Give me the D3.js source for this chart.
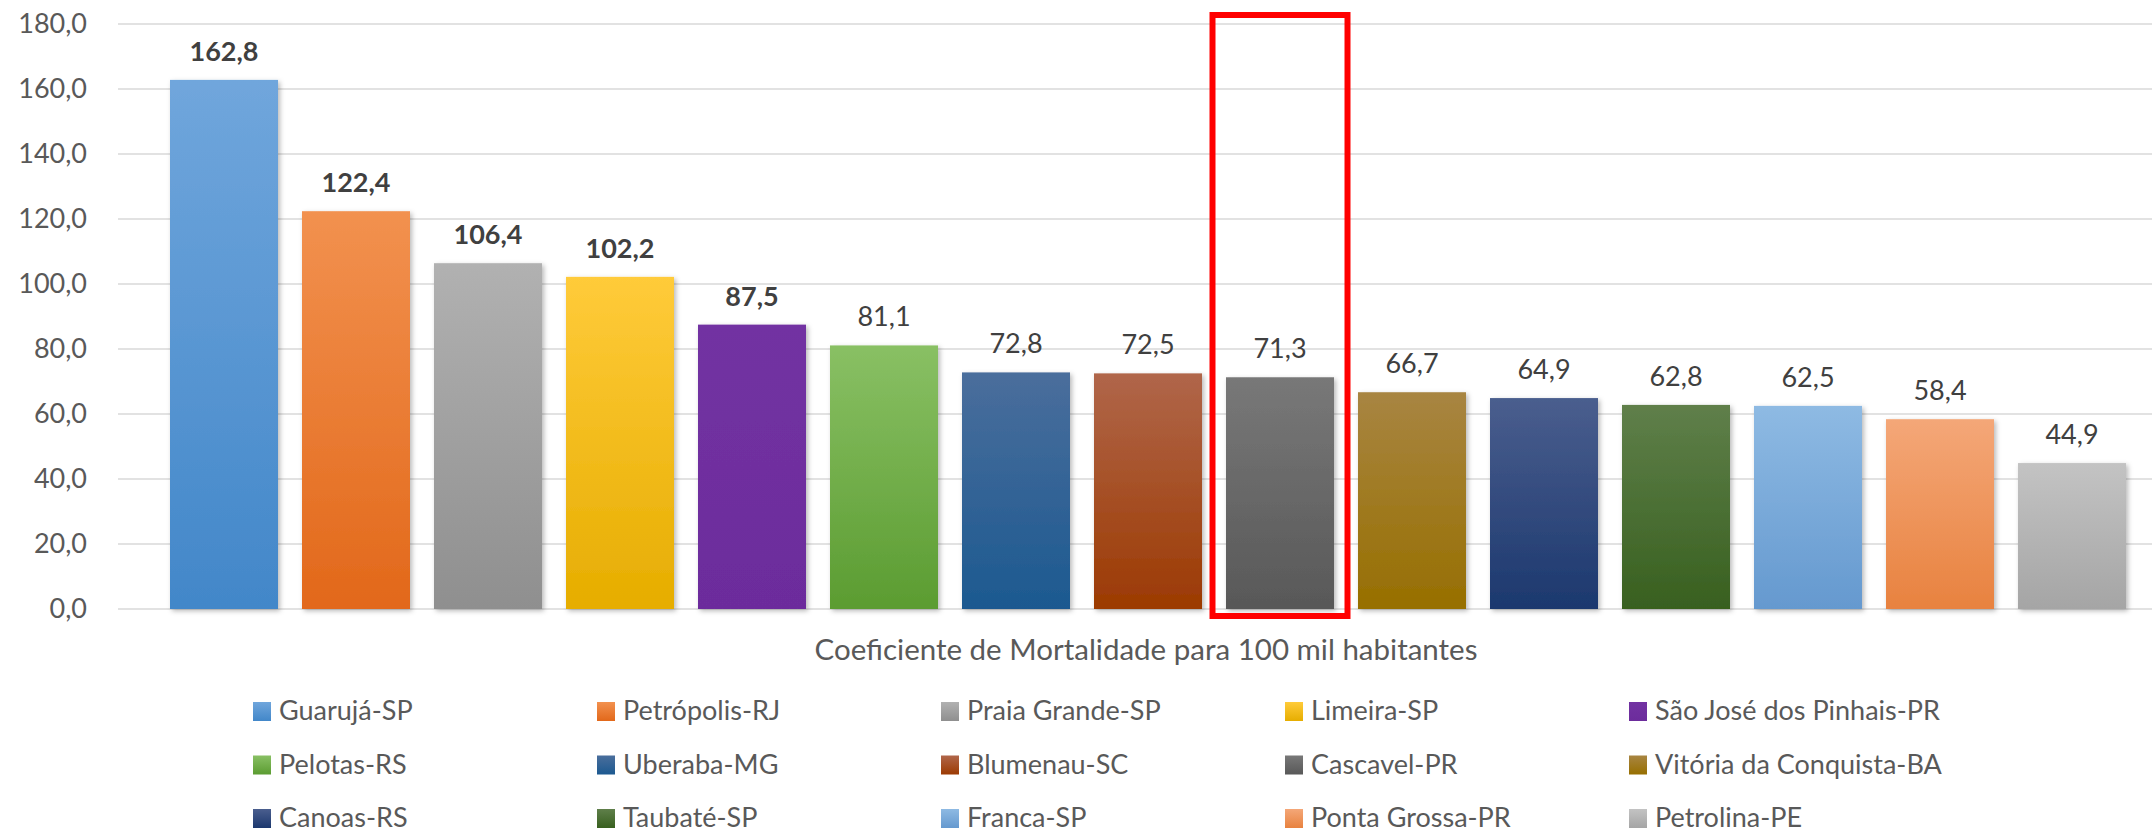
<!DOCTYPE html>
<html>
<head>
<meta charset="utf-8">
<script src="https://cdn.jsdelivr.net/npm/d3@7"></script>
<style>
  body { margin: 0; background: #fff; }
  svg text { font-family: Lato, "Open Sans", sans-serif; }
</style>
</head>
<body>
<svg id="chart"></svg>
<script>
const WIDTH = 2156;
const HEIGHT = 834;

// data
const cities = ["Guarujá-SP", "Petrópolis-RJ", "Praia Grande-SP", "Limeira-SP", "São José dos Pinhais-PR",
    "Pelotas-RS", "Uberaba-MG", "Blumenau-SC", "Cascavel-PR", "Vitória da Conquista-BA",
    "Canoas-RS", "Taubaté-SP", "Franca-SP", "Ponta Grossa-PR", "Petrolina-PE"];
const coef = [162.8, 122.4, 106.4, 102.2, 87.5, 81.1, 72.8, 72.5, 71.3, 66.7, 64.9, 62.8, 62.5, 58.4, 44.9];
const yTicks = [0, 20, 40, 60, 80, 100, 120, 140, 160, 180];
const highlighted = "Cascavel-PR";
const axisTitle = "Coeficiente de Mortalidade para 100 mil habitantes";

// top / bottom of each bar's gradient
const palette = [
    ["#70a6dc", "#4287c9"], ["#f2914f", "#e2681a"], ["#b1b1b1", "#8f8f8f"], ["#ffcb3a", "#e6ad00"],
    ["#7232a2", "#6c2c9c"], ["#89c064", "#5b9c31"], ["#4a6e9c", "#1c5990"], ["#b0664a", "#9c3a02"],
    ["#787878", "#585858"], ["#a88542", "#976f00"], ["#4a5e8e", "#1c386e"], ["#5f7f4a", "#38601f"],
    ["#8ebae3", "#6599cf"], ["#f4a778", "#e8823f"], ["#c3c3c3", "#a5a5a5"]
];

const plot = {left: 118, right: 2152, top: 24, bottom: 609};

const svg = d3.select('#chart')
    .attr('width', WIDTH)
    .attr('height', HEIGHT);

const locale = d3.formatLocale({decimal: ",", thousands: ".", grouping: [3], currency: ["R$", ""]});
const fmt = locale.format(".1f");

const y = d3.scaleLinear().domain([0, 180]).range([plot.bottom, plot.top]);
const x = d3.scaleBand()
    .domain(cities)
    .range([158, 158 + 15 * 132])
    .paddingInner(24 / 132)
    .paddingOuter(12 / 132);

const defs = svg.append('defs');
palette.forEach((c, i) => {
    let g = defs.append('linearGradient')
        .attr('id', 'grad' + i)
        .attr('x1', 0).attr('y1', 0).attr('x2', 0).attr('y2', 1);
    g.append('stop').attr('offset', 0).attr('stop-color', c[0]);
    g.append('stop').attr('offset', 1).attr('stop-color', c[1]);
});
defs.append('filter')
    .attr('id', 'shadow')
    .attr('x', -0.2).attr('y', -0.2).attr('width', 1.4).attr('height', 1.4)
    .append('feDropShadow')
    .attr('dx', 2).attr('dy', 2).attr('stdDeviation', 2.5)
    .attr('flood-color', '#000').attr('flood-opacity', 0.28);

//Gridlines
svg.append('g')
    .selectAll('line')
    .data(yTicks)
    .enter()
    .append('line')
    .attr('x1', plot.left)
    .attr('x2', plot.right)
    .attr('y1', d => y(d))
    .attr('y2', d => y(d))
    .style('stroke', '#d9d9d9')
    .style('stroke-width', 1.6);

//Y axis labels
const yAxis = svg.append('g')
    .attr('transform', `translate(${plot.left - 31},0)`)
    .call(d3.axisLeft(y).tickValues(yTicks).tickFormat(fmt).tickSize(0).tickPadding(0));
yAxis.select('.domain').remove();
yAxis.selectAll('text')
    .style('font-family', 'Lato, sans-serif')
    .style('font-size', '27px')
    .style('fill', '#595959');

//Bars
svg.append('g')
    .selectAll('rect')
    .data(cities)
    .enter()
    .append('rect')
    .attr('x', d => x(d))
    .attr('width', x.bandwidth())
    .attr('y', (d, i) => y(coef[i]))
    .attr('height', (d, i) => y(0) - y(coef[i]))
    .attr('fill', (d, i) => `url(#grad${i})`)
    .attr('filter', 'url(#shadow)');

//Value labels
svg.append('g')
    .selectAll('text')
    .data(cities)
    .enter()
    .append('text')
    .attr('x', d => x(d) + x.bandwidth() / 2)
    .attr('y', (d, i) => y(coef[i]) - 19)
    .attr('text-anchor', 'middle')
    .style('font-size', '27px')
    .style('font-weight', (d, i) => i < 5 ? 'bold' : 'normal')
    .style('fill', '#404040')
    .text((d, i) => fmt(coef[i]));

//Highlight box
svg.append('rect')
    .attr('x', x(highlighted) + x.bandwidth() / 2 - 67.5)
    .attr('width', 135)
    .attr('y', 15)
    .attr('height', 601)
    .style('fill', 'none')
    .style('stroke', '#ff0000')
    .style('stroke-width', 6);

//Axis title
svg.append('text')
    .attr('x', 1146)
    .attr('y', 660)
    .attr('text-anchor', 'middle')
    .style('font-size', '29.5px')
    .style('fill', '#595959')
    .text(axisTitle);

//Legend
const legend = svg.append('g')
    .selectAll('g')
    .data(cities)
    .enter()
    .append('g')
    .attr('transform', (d, i) => `translate(${253 + (i % 5) * 344}, ${702 + Math.floor(i / 5) * 53.5})`);
legend.append('rect')
    .attr('width', 18)
    .attr('height', 19)
    .attr('fill', (d, i) => `url(#grad${i})`);
legend.append('text')
    .attr('x', 26)
    .attr('y', 18)
    .style('font-size', '27px')
    .style('fill', '#595959')
    .text(d => d);
</script>
</body>
</html>
